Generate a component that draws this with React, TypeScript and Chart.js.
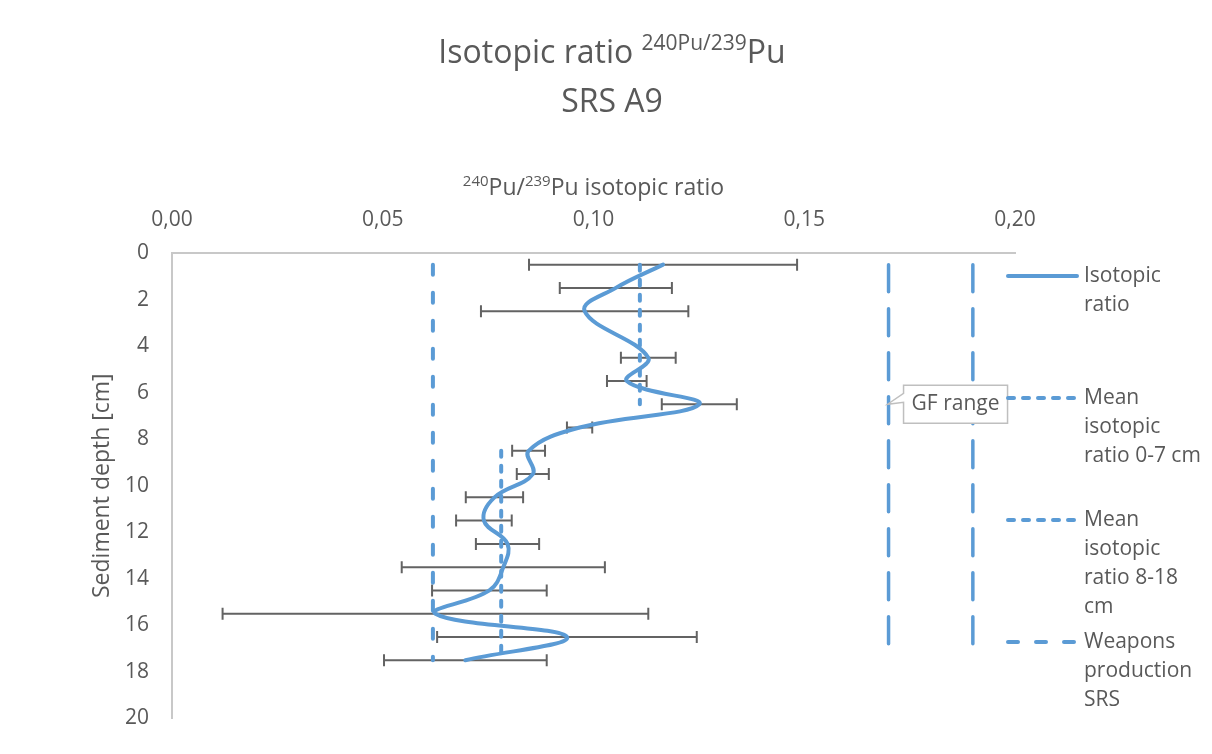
import React, { useEffect, useRef } from 'react';
import { Chart, registerables } from 'chart.js';

Chart.register(...registerables);

// ---------- data ----------
const depths = [0.5, 1.5, 2.5, 4.5, 5.5, 6.5, 7.5, 8.5, 9.5, 10.5, 11.5, 12.5, 13.5, 14.5, 15.5, 16.5, 17.5];
const ratios = [0.1165, 0.1053, 0.0979, 0.113, 0.1079, 0.1251, 0.0967, 0.0846, 0.0856, 0.0765, 0.074, 0.0796, 0.0786, 0.0753, 0.0625, 0.0937, 0.0696];
const ratioErrors = [0.0318, 0.0133, 0.0246, 0.0065, 0.0047, 0.0089, 0.003, 0.0039, 0.0038, 0.0068, 0.0066, 0.0075, 0.0241, 0.0136, 0.0505, 0.0308, 0.0193];

const mean07Value = 0.111;
const mean07Depths = [0.5, 6.5];
const mean818Value = 0.0781;
const mean818Depths = [8.5, 17.5];
const weaponsValue = 0.0619;
const weaponsDepths = [0.5, 17.5];
const gfRangeValues = [0.17, 0.19];
const gfDepths = [0.5, 17.5];
const gfLabelDepth = 6.5;
const gfLabel = 'GF range';

const xTickValues = [0, 0.05, 0.1, 0.15, 0.2];
const xTickLabels = ['0,00', '0,05', '0,10', '0,15', '0,20'];
const yTickValues = [0, 2, 4, 6, 8, 10, 12, 14, 16, 18, 20];

const legendLabels = [
  ['Isotopic', 'ratio'],
  ['Mean', 'isotopic', 'ratio 0-7 cm'],
  ['Mean', 'isotopic', 'ratio 8-18', 'cm'],
  ['Weapons', 'production', 'SRS'],
];

// ---------- style ----------
const BLUE = '#5b9bd5';
const TEXT = '#595959';
const FONT = "'Open Sans', sans-serif";

type Seg = { text: string; size: number; rise: number };

function drawRich(ctx: CanvasRenderingContext2D, segs: Seg[], cx: number, baseline: number) {
  let total = 0;
  const widths = segs.map((s) => {
    ctx.font = `${s.size}px ${FONT}`;
    const w = ctx.measureText(s.text).width;
    total += w;
    return w;
  });
  let x = cx - total / 2;
  ctx.textAlign = 'left';
  ctx.textBaseline = 'alphabetic';
  segs.forEach((s, i) => {
    ctx.font = `${s.size}px ${FONT}`;
    ctx.fillText(s.text, x, baseline - s.rise);
    x += widths[i];
  });
}

const decorPlugin = {
  id: 'decor',
  beforeDatasetsDraw(chart: any) {
    const { ctx, scales } = chart;
    const xs = scales.x;
    const ys = scales.y;
    ctx.save();
    ctx.strokeStyle = '#636363';
    ctx.lineWidth = 2;
    depths.forEach((d, i) => {
      const y = ys.getPixelForValue(d);
      const x1 = xs.getPixelForValue(ratios[i] - ratioErrors[i]);
      const x2 = xs.getPixelForValue(ratios[i] + ratioErrors[i]);
      ctx.beginPath();
      ctx.moveTo(x1, y);
      ctx.lineTo(x2, y);
      ctx.moveTo(x1, y - 6);
      ctx.lineTo(x1, y + 6);
      ctx.moveTo(x2, y - 6);
      ctx.lineTo(x2, y + 6);
      ctx.stroke();
    });
    ctx.restore();
  },
  afterDraw(chart: any) {
    const { ctx, scales } = chart;
    const xs = scales.x;
    const ys = scales.y;
    ctx.save();
    ctx.fillStyle = TEXT;
    // chart title
    drawRich(ctx, [
      { text: 'Isotopic ratio ', size: 32, rise: 0 },
      { text: '240Pu/239', size: 21, rise: 13 },
      { text: 'Pu', size: 32, rise: 0 },
    ], 612, 63);
    drawRich(ctx, [{ text: 'SRS A9', size: 32, rise: 0 }], 612, 112);
    // x axis title
    const cx = (chart.chartArea.left + chart.chartArea.right) / 2;
    drawRich(ctx, [
      { text: '240', size: 15, rise: 9 },
      { text: 'Pu/', size: 23, rise: 0 },
      { text: '239', size: 15, rise: 9 },
      { text: 'Pu isotopic ratio', size: 23, rise: 0 },
    ], cx, 195);

    // GF range callout
    const ax = xs.getPixelForValue(gfRangeValues[0]);
    const ay = ys.getPixelForValue(gfLabelDepth);
    const left = ax + 15;
    const top = ay - 19;
    const w = 104;
    const h = 38;
    ctx.beginPath();
    ctx.moveTo(left, top);
    ctx.lineTo(left + w, top);
    ctx.lineTo(left + w, top + h);
    ctx.lineTo(left, top + h);
    ctx.lineTo(left, ay - 2);
    ctx.lineTo(ax - 1, ay);
    ctx.lineTo(left, ay - 11);
    ctx.closePath();
    ctx.fillStyle = '#ffffff';
    ctx.fill();
    ctx.strokeStyle = '#bfbfbf';
    ctx.lineWidth = 1.5;
    ctx.stroke();
    ctx.fillStyle = TEXT;
    ctx.font = `21px ${FONT}`;
    ctx.textAlign = 'center';
    ctx.textBaseline = 'middle';
    ctx.fillText(gfLabel, left + w / 2, ay);

    // legend
    const legendX0 = 1008;
    const legendX1 = 1077;
    const textX = 1084;
    const startY = 276;
    const stepY = 122;
    const lineH = 29;
    legendLabels.forEach((lines, i) => {
      const ds = chart.data.datasets[i];
      const y = startY + i * stepY;
      ctx.save();
      ctx.strokeStyle = ds.borderColor;
      ctx.lineWidth = ds.borderWidth;
      ctx.lineCap = ds.borderCapStyle || 'butt';
      ctx.setLineDash(ds.borderDash || []);
      ctx.beginPath();
      ctx.moveTo(legendX0, y);
      ctx.lineTo(legendX1, y);
      ctx.stroke();
      ctx.restore();
      ctx.fillStyle = TEXT;
      ctx.font = `21px ${FONT}`;
      ctx.textAlign = 'left';
      ctx.textBaseline = 'middle';
      lines.forEach((t, j) => ctx.fillText(t, textX, y + j * lineH));
    });
    ctx.restore();
  },
};

export default function App() {
  const ref = useRef<HTMLCanvasElement>(null);

  useEffect(() => {
    Chart.defaults.font.family = FONT;
    Chart.defaults.color = TEXT;
    const vLine = (label: string, value: number, ds: number[], dash: number[], width: number) => ({
      label,
      data: ds.map((d) => ({ x: value, y: d })),
      showLine: true,
      borderColor: BLUE,
      backgroundColor: BLUE,
      borderWidth: width,
      borderDash: dash,
      borderCapStyle: 'round',
      pointRadius: 0,
      pointHoverRadius: 0,
      fill: false,
    });
    const chart = new Chart(ref.current as HTMLCanvasElement, {
      type: 'scatter',
      data: {
        datasets: [
          {
            label: 'Isotopic ratio',
            data: depths.map((d, i) => ({ x: ratios[i], y: d })),
            showLine: true,
            borderColor: BLUE,
            backgroundColor: BLUE,
            borderWidth: 4,
            borderCapStyle: 'round',
            tension: 0.4,
            pointRadius: 0,
            pointHoverRadius: 0,
            fill: false,
          },
          vLine('Mean isotopic ratio 0-7 cm', mean07Value, mean07Depths, [6, 9], 4),
          vLine('Mean isotopic ratio 8-18 cm', mean818Value, mean818Depths, [6, 9], 4),
          vLine('Weapons production SRS', weaponsValue, weaponsDepths, [10, 18], 4),
          vLine('GF range', gfRangeValues[0], gfDepths, [27, 17], 3.5),
          vLine('GF range', gfRangeValues[1], gfDepths, [27, 17], 3.5),
        ] as any,
      },
      options: {
        animation: false,
        responsive: false,
        maintainAspectRatio: false,
        devicePixelRatio: 1,
        events: [],
        layout: { padding: { left: 0, right: 197, top: 0, bottom: 35 } },
        plugins: {
          legend: { display: false },
          title: { display: false },
          tooltip: { enabled: false },
        },
        scales: {
          x: {
            type: 'linear',
            position: 'top',
            min: 0,
            max: 0.2,
            afterBuildTicks: (s: any) => {
              s.ticks = xTickValues.map((v) => ({ value: v }));
            },
            afterFit: (s: any) => {
              s.height = 253;
            },
            ticks: {
              callback: (_v: any, i: number) => xTickLabels[i],
              padding: 20,
              color: TEXT,
              font: { size: 21 },
              maxRotation: 0,
              autoSkip: false,
            },
            grid: { display: false, drawTicks: false },
            border: { display: true, color: '#c8c8c8', width: 2 },
          },
          y: {
            type: 'linear',
            reverse: true,
            min: 0,
            max: 20,
            afterBuildTicks: (s: any) => {
              s.ticks = yTickValues.map((v) => ({ value: v }));
            },
            afterFit: (s: any) => {
              s.width = 172;
            },
            ticks: {
              padding: 23,
              color: TEXT,
              font: { size: 21 },
              autoSkip: false,
            },
            grid: { display: false, drawTicks: false },
            border: { display: true, color: '#c8c8c8', width: 2 },
            title: {
              display: true,
              text: 'Sediment depth [cm]',
              color: TEXT,
              font: { size: 23 },
              padding: { top: 89, bottom: 0 },
            },
          },
        },
      } as any,
      plugins: [decorPlugin],
    });
    return () => chart.destroy();
  }, []);

  return (
    <div style={{ position: 'fixed', left: 0, top: 0, width: 1212, height: 754, background: '#ffffff' }}>
      <canvas ref={ref} width={1212} height={754} style={{ display: 'block', width: 1212, height: 754 }} />
    </div>
  );
}
